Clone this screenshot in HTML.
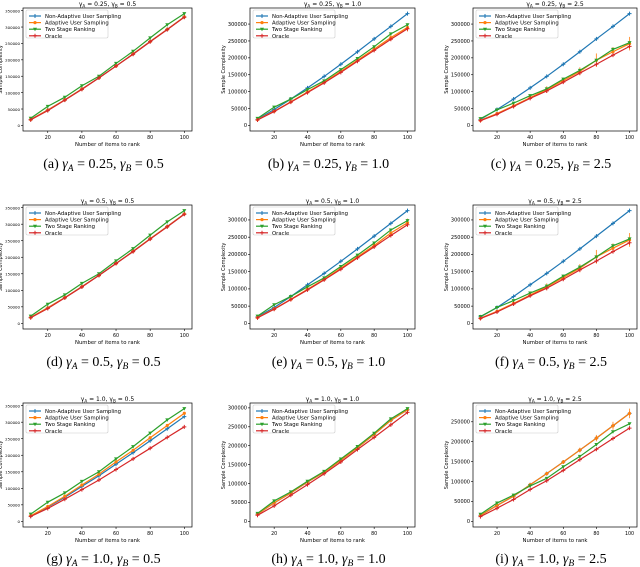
<!DOCTYPE html>
<html><head><meta charset="utf-8">
<style>
html,body{margin:0;padding:0;background:#fff;}
svg{display:block;font-family:"DejaVu Sans","Liberation Sans",sans-serif;}
.cap{font-family:"Liberation Serif",serif;font-size:14px;}
</style></head>
<body>
<svg id="fig" width="640" height="567" viewBox="0 0 640 567"></svg>
<script>
const xItems = [10,20,30,40,50,60,70,80,90,100];
const xTicks = [20,40,60,80,100];
const seriesNames = ["Non-Adaptive User Sampling","Adaptive User Sampling","Two Stage Ranking","Oracle"];
const panelTitles = ["a","b","c","d","e","f","g","h","i"];
const gammaA = ["0.25","0.25","0.25","0.5","0.5","0.5","1.0","1.0","1.0"];
const gammaB = ["0.5","1.0","2.5","0.5","1.0","2.5","0.5","1.0","2.5"];

// panel a
const blueA = [18000,47000,78000,111000,145000,181000,218000,256000,293000,331000];
const orangeA = [18000,47000,78000,111000,145000,181000,218000,256000,293000,331000];
const greenA = [22000,58000,86000,121000,150000,189000,226000,267000,307000,341000];
const redA = [17000,45000,77000,110000,145000,181000,217000,255000,292000,330000];
// panel b
const blueB = [18000,47000,78000,111000,145000,181000,218000,256000,293000,331000];
const orangeB = [17000,42000,70000,99000,128000,160000,193000,226000,260000,290000];
const greenB = [21000,54000,78000,106000,132000,165000,198000,233000,271000,298000];
const redB = [16000,41000,69000,97000,126000,157000,190000,222000,255000,286000];
// panel c
const blueC = [18000,47000,78000,111000,145000,181000,218000,256000,293000,331000];
const orangeC = [15000,35000,58000,82000,106000,133000,160000,193000,218000,242000];
const greenC = [20000,46000,66000,88000,108000,137000,163000,193000,225000,245000];
const redC = [14000,33000,56000,80000,102000,128000,155000,181000,208000,234000];
// panel d
const blueD = [18000,47000,78000,111000,145000,181000,218000,256000,293000,331000];
const orangeD = [18000,47000,78000,111000,145000,181000,218000,256000,293000,331000];
const greenD = [22000,58000,86000,121000,150000,189000,226000,267000,307000,341000];
const redD = [17000,45000,77000,110000,145000,181000,217000,255000,292000,330000];
// panel e
const blueE = [19000,46000,78000,112000,145000,180000,216000,253000,290000,327000];
const orangeE = [17000,42000,70000,99000,128000,160000,193000,226000,262000,292000];
const greenE = [21000,54000,78000,106000,132000,165000,198000,233000,271000,298000];
const redE = [16000,41000,69000,97000,126000,157000,190000,222000,255000,286000];
// panel f
const blueF = [19000,46000,78000,112000,145000,180000,216000,253000,290000,327000];
const orangeF = [15000,35000,58000,82000,106000,133000,160000,193000,218000,242000];
const greenF = [20000,46000,66000,88000,108000,137000,163000,193000,225000,245000];
const redF = [14000,33000,56000,80000,102000,128000,155000,181000,208000,234000];
// panel g
const blueG = [16000,43000,73000,106000,138000,173000,208000,244000,280000,317000];
const orangeG = [17000,45000,76000,110000,143000,180000,215000,253000,290000,327000];
const greenG = [22000,58000,86000,121000,150000,189000,226000,267000,307000,341000];
const redG = [15000,39000,67000,96000,125000,157000,189000,221000,254000,286000];
// panel h
const blueH = [19000,49000,75000,104000,130000,162000,195000,230000,267000,295000];
const orangeH = [19000,49000,75000,104000,130000,162000,195000,230000,267000,295000];
const greenH = [21000,54000,78000,106000,132000,165000,198000,233000,271000,298000];
const redH = [16000,41000,69000,97000,126000,157000,190000,222000,255000,288000];
// panel i
const blueI = [15000,40000,63000,92000,120000,149000,179000,209000,240000,271000];
const orangeI = [15000,40000,63000,92000,120000,149000,179000,209000,240000,271000];
const greenI = [18000,46000,66000,89000,108000,137000,163000,193000,225000,245000];
const redI = [12000,33000,55000,80000,102000,128000,155000,181000,208000,234000];

const errC = [2000,3000,4000,5000,10000,8000,12000,20000,14000,20000];
const errSmall = [1000,2000,2000,3000,4000,5000,6000,8000,10000,12000];
const errZero = [0,0,0,0,0,0,0,0,0,0];

const panelData = [
 [blueA,orangeA,greenA,redA,errZero],[blueB,orangeB,greenB,redB,errSmall],[blueC,orangeC,greenC,redC,errC],
 [blueD,orangeD,greenD,redD,errZero],[blueE,orangeE,greenE,redE,errSmall],[blueF,orangeF,greenF,redF,errC],
 [blueG,orangeG,greenG,redG,errZero],[blueH,orangeH,greenH,redH,errZero],[blueI,orangeI,greenI,redI,errSmall]
];
const colors = ["#1f77b4","#ff7f0e","#2ca02c","#d62728"];
const NS = "http://www.w3.org/2000/svg";
const svg = document.getElementById("fig");
function mk(tag, attrs, parent){const e=document.createElementNS(NS,tag);for(const k in attrs)e.setAttribute(k,attrs[k]);(parent||svg).appendChild(e);return e;}

const colLeft=[23,250,473], colRight=[192,415,637];
const tickFont=[3.9,5.0,5.0], yTitleOff=[21,25,25];
const rowTop=[8,205,403], rowBot=[131,329,527], capY=[168,366,563];

function marker(g,type,x,y,c){
  if(type===0||type===3){
    mk("path",{d:`M${x-2},${y}H${x+2}M${x},${y-2}V${y+2}`,stroke:c,"stroke-width":1},g);
  } else if(type===1){
    mk("circle",{cx:x,cy:y,r:1.6,fill:c},g);
  } else {
    mk("path",{d:`M${x-2},${y-1.5}L${x+2},${y-1.5}L${x},${y+2}Z`,fill:c},g);
  }
}

for(let p=0;p<9;p++){
  const r=Math.floor(p/3), c=p%3;
  const L=colLeft[c],R=colRight[c],T=rowTop[r],B=rowBot[r];
  const d=panelData[p]; const err=d[4];
  let mx=-Infinity;
  for(let s=0;s<4;s++)d[s].forEach((v,i)=>{const e=s===1?err[i]:0;mx=Math.max(mx,v+e);});
  const pad=mx*0.05; const y0=-pad,y1=mx+pad;
  const xs=v=>L+(v-5.5)/(104.5-5.5)*(R-L);
  const ys=v=>B-(v-y0)/(y1-y0)*(B-T);
  const g=mk("g",{});
  
  
  const t=mk("text",{x:(L+R)/2,y:T-2,"font-size":6,"text-anchor":"middle",fill:"#000"},g);
  
  
  t.innerHTML=`γ<tspan font-size="4.2" dy="1.5">A</tspan><tspan dy="-1.5"> = ${gammaA[p]}, γ</tspan><tspan font-size="4.2" dy="1.5">B</tspan><tspan dy="-1.5"> = ${gammaB[p]}</tspan>`;
  for(let v=0;v<=y1;v+=50000){
    const y=ys(v);
    mk("line",{x1:L-2,x2:L,y1:y,y2:y,stroke:"#000","stroke-width":0.6},g);
    const tl=mk("text",{x:L-3,y:y+1.8,"font-size":tickFont[c],"text-anchor":"end",fill:"#000"},g);
    
    
    tl.textContent=v;
  }
  xTicks.forEach(v=>{
    const x=xs(v);
    mk("line",{x1:x,x2:x,y1:B,y2:B+2,stroke:"#000","stroke-width":0.6},g);
    const tl=mk("text",{x:x,y:B+8,"font-size":4.8,"text-anchor":"middle",fill:"#000"},g);
    
    
    tl.textContent=v;
  });
  const xl=mk("text",{x:(L+R)/2,y:B+15,"font-size":5.3,"text-anchor":"middle",fill:"#000"},g);
  
  
  xl.textContent="Number of items to rank";
  const yl=mk("text",{x:0,y:0,"font-size":5,"text-anchor":"middle",fill:"#000",transform:`translate(${L-yTitleOff[c]},${(T+B)/2}) rotate(-90)`},g);
  
  
  yl.textContent="Sample Complexity";
  for(let s=0;s<4;s++){
    const sg=mk("g",{},g);
    
    
    const pts=d[s].map((v,i)=>xs(xItems[i])+","+ys(v)).join(" ");
    mk("polyline",{points:pts,fill:"none",stroke:colors[s],"stroke-width":1.2},sg);
    d[s].forEach((v,i)=>{
      const x=xs(xItems[i]),y=ys(v);
      if(s===1&&err[i]>0) mk("line",{x1:x,x2:x,y1:ys(v-err[i]),y2:ys(v+err[i]),stroke:colors[s],"stroke-width":1,opacity:0.8},sg);
      marker(sg,s,x,y,colors[s]);
    });
  }
  mk("rect",{x:L,y:T,width:R-L,height:B-T,fill:"none",stroke:"#000","stroke-width":0.7},g);
  const lg=mk("g",{},g);
  
  
  mk("rect",{x:L+3,y:T+2,width:82,height:28,fill:"#fff",stroke:"#ccc","stroke-width":0.6,rx:1.5},lg);
  seriesNames.forEach((n,s)=>{
    const y=T+8+s*6.6;
    mk("line",{x1:L+6,x2:L+18,y1:y,y2:y,stroke:colors[s],"stroke-width":1.2},lg);
    marker(lg,s,L+12,y,colors[s]);
    const et=mk("text",{x:L+22,y:y+2,"font-size":5.3,fill:"#000"},lg);
    
    
    et.textContent=n;
  });
  const cp=mk("text",{x:(L+R)/2-4,y:capY[r],"text-anchor":"middle",class:"cap",fill:"#000"},g);
  
  
  cp.innerHTML=`(${panelTitles[p]})  <tspan font-style="italic">γ</tspan><tspan font-size="9.5" font-style="italic" dy="3">A</tspan><tspan dy="-3"> = ${gammaA[p]},  </tspan><tspan font-style="italic">γ</tspan><tspan font-size="9.5" font-style="italic" dy="3">B</tspan><tspan dy="-3"> = ${gammaB[p]}</tspan>`;
}
</script>
</body></html>
